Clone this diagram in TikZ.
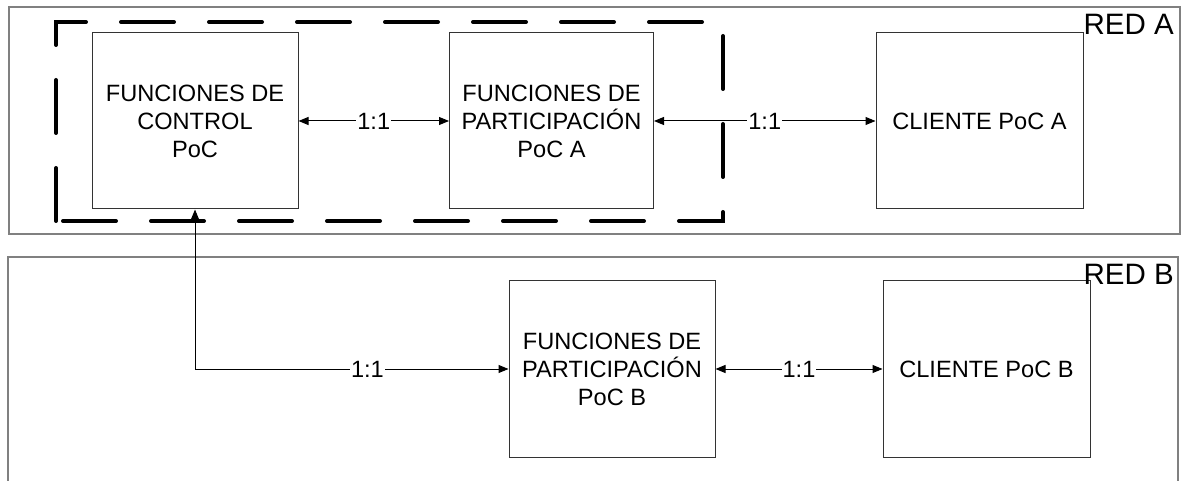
\documentclass[tikz,border=0pt]{standalone}
\usepackage{fontspec}
\setmainfont{Liberation Sans}
\usetikzlibrary{arrows.meta}
\begin{document}
\begin{tikzpicture}[x=1pt,y=-1pt,
  frame/.style={draw=black!50, line width=1.2pt},
  unit/.style={draw=black!80, line width=1pt, minimum width=#1, minimum height=176pt,
    inner sep=0pt, align=center, font=\fontsize{23.6}{28}\selectfont},
  conn/.style={line width=1pt, {Triangle[length=10pt,width=8pt]}-{Triangle[length=10pt,width=8pt]}},
  lbl/.style={fill=white, inner sep=1pt, font=\fontsize{23.6}{28}\selectfont},
  redlbl/.style={anchor=base east, inner sep=0pt, font=\fontsize{29.5}{34}\selectfont},
  group/.style={line width=4pt, line cap=round, line join=miter, dash pattern=on 53pt off 35pt}]
\useasboundingbox (0,0) rectangle (1184,481);
% network frames
\draw[frame] (9,7) rectangle (1180,234);
\draw[frame] (8,481) -- (8,257) -- (1178,257) -- (1178,481);
% boxes
\node[unit=206pt] (ctl)  at (195,121)   {FUNCIONES DE\\CONTROL\\PoC};
\node[unit=204pt] (parA) at (551.5,121) {FUNCIONES DE\\PARTICIPACIÓN\\PoC A};
\node[unit=207pt] (cliA) at (979.5,121) {CLIENTE PoC A};
\node[unit=206pt] (parB) at (612,369)   {FUNCIONES DE\\PARTICIPACIÓN\\PoC B};
\node[unit=207pt] (cliB) at (986.5,369) {CLIENTE PoC B};
% network labels
\node[redlbl] (redA) at (1174,35)  {RED A};
\node[redlbl] (redB) at (1174,285) {RED B};
% dashed group
\draw[group] (56,221) -- (56,22) -- (723,22) -- (723,221) -- cycle;
% connectors
\draw[conn] (ctl) -- node[lbl]{1:1} (parA);
\draw[conn] (parA) -- node[lbl]{1:1} (cliA);
\draw[conn] (parB) -- node[lbl]{1:1} (cliB);
\draw[conn] (ctl.south) |- node[lbl,pos=0.775]{1:1} (parB.west);
\end{tikzpicture}
\end{document}
